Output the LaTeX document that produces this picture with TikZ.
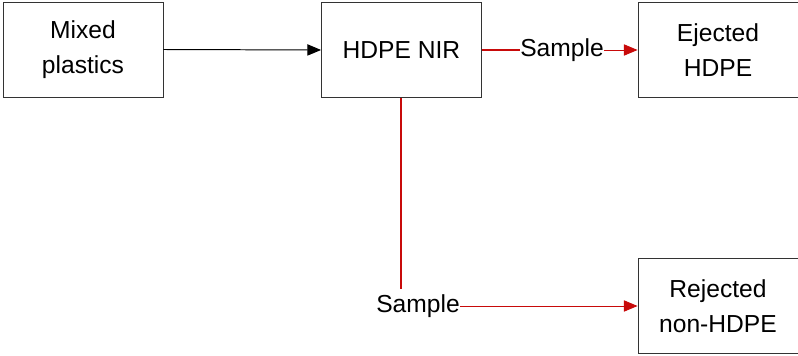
\documentclass[tikz,border=0pt]{standalone}
\usepackage{fontspec}
\setmainfont{Liberation Sans}
\usepackage{xcolor}
\usetikzlibrary{arrows.meta}
\definecolor{flowred}{RGB}{200,10,10}

\begin{document}
\begin{tikzpicture}[x=0.025cm,y=0.025cm,
	every node/.style={font=\fontsize{17.5}{25}\selectfont, align=center},
	unit/.style={draw=black!80, line width=.6pt, minimum width=4cm, minimum height=2.375cm, inner sep=0pt},
	tag/.style={inner sep=0pt},
	feed/.style={-{Triangle[length=3.4mm,width=2.8mm]}, line width=.7pt, black},
	split/.style={-{Triangle[length=3.4mm,width=2.8mm]}, line width=.7pt, flowred}]

	% frame
	\useasboundingbox (0,0) rectangle (798,356);

	% Units
	\node[unit] (mixed)  at (83, 306.5) {Mixed\\plastics};
	\node[unit] (nir)    at (401.5, 306) {HDPE NIR};
	\node[unit] (eject)  at (718, 306) {Ejected\\HDPE};
	\node[unit] (reject) at (718, 50) {Rejected\\non-HDPE};

	% Sample labels
	\node[tag] (smpA) at (562, 306) {Sample};
	\node[tag] (smpB) at (418, 50) {Sample};
	\coordinate (drop) at (401, 67);

	% Arrows
	\draw[feed] (mixed.east) -- (nir.west);
	\draw[flowred, line width=.8pt] (nir.east) -- (smpA.west);
	\draw[split] (smpA.east) -- (eject.west);
	\draw[flowred, line width=.9pt] (nir.south -| drop) -- (drop);
	\draw[split] (smpB.east) -- (reject.west);

\end{tikzpicture}
\end{document}
